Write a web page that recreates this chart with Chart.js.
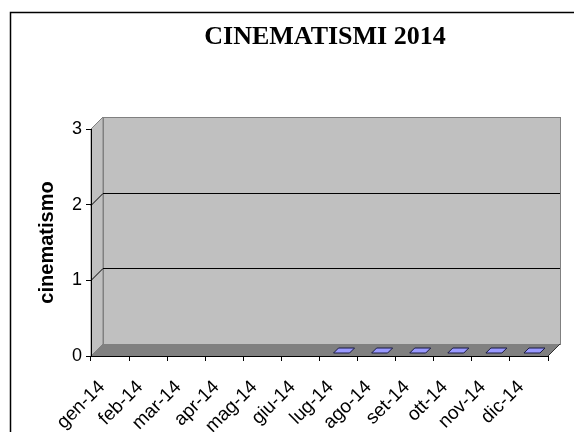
<!DOCTYPE html>
<html>
<head>
<meta charset="utf-8">
<script src="https://cdn.jsdelivr.net/npm/chart.js@4/dist/chart.umd.min.js"></script>
<style>
  body { margin: 0; background: #fff; }
</style>
</head>
<body>
<canvas id="cinematismi-chart" width="574" height="432"></canvas>
<script>
// dati
var mesi = ["gen-14", "feb-14", "mar-14", "apr-14", "mag-14", "giu-14", "lug-14", "ago-14", "set-14", "ott-14", "nov-14", "dic-14"];
var cinematismi = [null, null, null, null, null, null, 0, 0, 0, 0, 0, 0];
var yMin = 0;
var yMax = 3;
var yStep = 1;

var DEPTH = 12; // 3d offset of the back wall

// walls, floor, frame and title (drawn under the axes)
var wallsPlugin = {
    id: 'walls',
    beforeDraw: function (chart) {
        var c = chart.ctx;
        var a = chart.chartArea;
        var ys = chart.scales.y;
        var L = a.left, R = a.right, T = a.top, B = a.bottom, d = DEPTH;

        c.save();
        c.fillStyle = '#ffffff';
        c.fillRect(0, 0, chart.width, chart.height);

        // frame
        c.strokeStyle = '#000';
        c.lineWidth = 1.5;
        c.strokeRect(10.5, 12.5, 640, 500);

        // title
        c.fillStyle = '#000';
        c.font = 'bold 26px "Liberation Serif", "Times New Roman", serif';
        c.textAlign = 'center';
        c.textBaseline = 'alphabetic';
        c.fillText('CINEMATISMI 2014', 325, 44);

        c.lineWidth = 1;
        // back wall
        c.fillStyle = '#c0c0c0';
        c.strokeStyle = '#808080';
        c.fillRect(L + d, T - d, R - L, B - T);
        c.strokeRect(L + d + 0.5, T - d + 0.5, R - L, B - T);

        // side wall
        c.beginPath();
        c.moveTo(L, T);
        c.lineTo(L + d, T - d);
        c.lineTo(L + d, B - d);
        c.lineTo(L, B);
        c.closePath();
        c.fill();
        c.stroke();

        // floor
        c.fillStyle = '#808080';
        c.beginPath();
        c.moveTo(L, B);
        c.lineTo(L + d, B - d);
        c.lineTo(R + d, B - d);
        c.lineTo(R, B);
        c.closePath();
        c.fill();
        c.strokeStyle = '#303030';
        c.beginPath();
        c.moveTo(R, B);
        c.lineTo(R + d, B - d);
        c.stroke();

        // gridlines on back wall + diagonals on side wall
        c.strokeStyle = '#000';
        for (var v = yMin + yStep; v < yMax; v += yStep) {
            var y = Math.round(ys.getPixelForValue(v)) + 0.5;
            c.beginPath();
            c.moveTo(L, y);
            c.lineTo(L + d, y - d);
            c.lineTo(R + d, y - d);
            c.stroke();
        }
        c.restore();
    },
    afterDatasetsDraw: function (chart) {
        // flat 3d tops of the zero columns
        var c = chart.ctx;
        var meta = chart.getDatasetMeta(0);
        var d1 = 3, d2 = 8;
        c.save();
        c.fillStyle = '#9999ff';
        c.strokeStyle = '#1a1a40';
        c.lineWidth = 1;
        meta.data.forEach(function (bar, i) {
            if (cinematismi[i] === null) return;
            var x = bar.x, w = bar.width, y = bar.y;
            c.beginPath();
            c.moveTo(x - w / 2 + d1, y - d1);
            c.lineTo(x + w / 2 + d1, y - d1);
            c.lineTo(x + w / 2 + d2, y - d2);
            c.lineTo(x - w / 2 + d2, y - d2);
            c.closePath();
            c.fill();
            c.stroke();
        });
        c.restore();
    }
};

var ctx = document.getElementById('cinematismi-chart');
var chart = new Chart(ctx.getContext('2d'), {
    type: 'bar',
    data: {
        labels: mesi,
        datasets: [{
            label: 'cinematismo',
            data: cinematismi,
            backgroundColor: '#9999ff',
            borderWidth: 0,
            barPercentage: 0.42,
            categoryPercentage: 1
        }]
    },
    options: {
        responsive: false,
        animation: false,
        layout: { padding: { left: 10, right: 26, top: 129, bottom: 0 } },
        plugins: {
            legend: { display: false },
            title: { display: false },
            tooltip: { enabled: false }
        },
        scales: {
            x: {
                afterFit: function (scale) { scale.height = 76; },
                grid: { display: true, drawOnChartArea: false, drawTicks: true, tickLength: 5, color: '#000', offset: true },
                border: { display: true, color: '#000' },
                ticks: {
                    autoSkip: false,
                    minRotation: 45,
                    maxRotation: 45,
                    padding: 15,
                    labelOffset: -8,
                    color: '#000',
                    font: { family: "'Liberation Sans', Arial, sans-serif", size: 19 }
                }
            },
            y: {
                min: yMin,
                max: yMax,
                afterFit: function (scale) { scale.width = 81; },
                grid: { display: true, drawOnChartArea: false, drawTicks: true, tickLength: 5, color: '#000' },
                border: { display: true, color: '#000' },
                ticks: {
                    stepSize: yStep,
                    padding: 4,
                    color: '#000',
                    font: { family: "'Liberation Sans', Arial, sans-serif", size: 18 }
                },
                title: {
                    display: true,
                    text: 'cinematismo',
                    color: '#000',
                    padding: { top: 25, bottom: 0 },
                    font: { family: "'Liberation Sans', Arial, sans-serif", size: 20, weight: 'bold' }
                }
            }
        }
    },
    plugins: [wallsPlugin]
});
</script>
</body>
</html>
